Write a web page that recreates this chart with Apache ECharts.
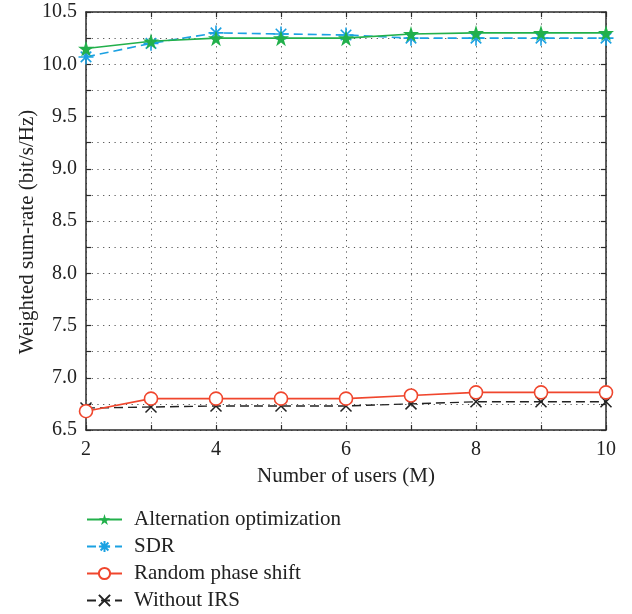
<!DOCTYPE html>
<html>
<head>
<meta charset="utf-8">
<script src="https://cdn.jsdelivr.net/npm/echarts@6/dist/echarts.min.js"></script>
<style>
  html, body { margin: 0; padding: 0; background: #fff; }
  #chart { width: 632px; height: 614px; }
</style>
</head>
<body>
<div id="chart"></div>
<script>
// Number of users M
const users = [2, 3, 4, 5, 6, 7, 8, 9, 10];

// Weighted sum-rate (bit/s/Hz) for each scheme
const altOptimization = [10.15, 10.22, 10.25, 10.25, 10.25, 10.29, 10.30, 10.30, 10.30];
const sdr             = [10.07, 10.20, 10.30, 10.29, 10.28, 10.25, 10.25, 10.25, 10.25];
const randomPhase     = [6.68, 6.80, 6.80, 6.80, 6.80, 6.83, 6.86, 6.86, 6.86];
const withoutIRS      = [6.71, 6.72, 6.73, 6.73, 6.73, 6.75, 6.77, 6.77, 6.77];

const seriesNames = ['Alternation optimization', 'SDR', 'Random phase shift', 'Without IRS'];

const FONT = '"Liberation Serif", "Times New Roman", serif';
const AXIS_COLOR = '#2b2b2b';
const TEXT_COLOR = '#222';

const STAR = 'path://M50,0 L61,35 L98,35 L68,57 L79,91 L50,70 L21,91 L32,57 L2,35 L39,35 Z';
const ASTERISK = 'path://M0,5 L10,5 M5,0 L5,10 M1.5,1.5 L8.5,8.5 M8.5,1.5 L1.5,8.5';
const CROSS = 'path://M0,0 L10,10 M10,0 L0,10';

const pairs = arr => users.map((u, i) => [u, arr[i]]);

const chart = echarts.init(document.getElementById('chart'), null, { renderer: 'canvas' });

// labels only on the major steps (0.5 on y, 2 on x); minor steps keep ticks and grid
const yFmt = v => (Math.abs(v * 2 - Math.round(v * 2)) < 1e-6 ? v.toFixed(1) : '');
const xFmt = v => (v % 2 === 0 ? String(v) : '');

const tick = { show: true, inside: true, length: 5, lineStyle: { color: AXIS_COLOR, width: 1.2 } };
const frame = { show: true, lineStyle: { color: AXIS_COLOR, width: 1.5 } };
const grid = { show: true, lineStyle: { color: '#555', width: 1, type: [1.2, 4.5] } };

chart.setOption({
  animation: false,
  backgroundColor: '#fff',
  textStyle: { fontFamily: FONT },
  grid: { left: 86, right: 26, top: 12, bottom: 184, containLabel: false },
  legend: {
    orient: 'vertical',
    left: 86,
    top: 509,
    padding: 0,
    itemWidth: 35,
    itemHeight: 14,
    itemGap: 6,
    data: seriesNames,
    textStyle: { fontFamily: FONT, fontSize: 21, lineHeight: 21, color: TEXT_COLOR, padding: [0, 0, 0, 7] }
  },
  xAxis: [
    {
      type: 'value', min: 2, max: 10, interval: 1, position: 'bottom',
      name: 'Number of users (M)', nameLocation: 'middle', nameGap: 36, nameMoveOverlap: false,
      nameTextStyle: { fontFamily: FONT, fontSize: 21, color: TEXT_COLOR },
      axisLine: frame, axisTick: tick,
      axisLabel: { formatter: xFmt, fontFamily: FONT, fontSize: 20, color: TEXT_COLOR, margin: 10 },
      splitLine: grid
    },
    {
      type: 'value', min: 2, max: 10, interval: 1, position: 'top',
      axisLine: frame, axisTick: tick,
      axisLabel: { show: false }, splitLine: { show: false }
    }
  ],
  yAxis: [
    {
      type: 'value', min: 6.5, max: 10.5, interval: 0.25, position: 'left',
      name: 'Weighted sum-rate (bit/s/Hz)', nameLocation: 'middle', nameGap: 48, nameRotate: 90,
      nameMoveOverlap: false,
      nameTextStyle: { fontFamily: FONT, fontSize: 21, color: TEXT_COLOR, padding: [0, 22, 0, 0] },
      axisLine: frame, axisTick: tick,
      axisLabel: { formatter: yFmt, fontFamily: FONT, fontSize: 20, color: TEXT_COLOR, margin: 9 },
      splitLine: grid
    },
    {
      type: 'value', min: 6.5, max: 10.5, interval: 0.25, position: 'right',
      axisLine: frame, axisTick: tick,
      axisLabel: { show: false }, splitLine: { show: false }
    }
  ],
  series: [
    {
      name: seriesNames[0], type: 'line', xAxisIndex: 0, yAxisIndex: 0,
      data: pairs(altOptimization),
      symbol: STAR, symbolSize: 16,
      lineStyle: { color: '#22b04b', width: 1.6 },
      itemStyle: { color: '#22b04b', borderColor: '#22b04b', borderWidth: 0 },
      z: 4
    },
    {
      name: seriesNames[1], type: 'line', xAxisIndex: 0, yAxisIndex: 0,
      data: pairs(sdr),
      symbol: ASTERISK, symbolSize: 15,
      lineStyle: { color: '#1ba1e2', width: 1.6, type: [9, 5] },
      itemStyle: { color: '#1ba1e2', borderColor: '#1ba1e2', borderWidth: 1.6 },
      z: 3
    },
    {
      name: seriesNames[2], type: 'line', xAxisIndex: 0, yAxisIndex: 0,
      data: pairs(randomPhase),
      symbol: 'circle', symbolSize: 13,
      lineStyle: { color: '#f0462d', width: 1.6 },
      itemStyle: { color: '#ffffff', borderColor: '#f0462d', borderWidth: 1.6 },
      z: 4
    },
    {
      name: seriesNames[3], type: 'line', xAxisIndex: 0, yAxisIndex: 0,
      data: pairs(withoutIRS),
      symbol: CROSS, symbolSize: 11,
      lineStyle: { color: '#222222', width: 1.4, type: [9, 5] },
      itemStyle: { color: '#222222', borderColor: '#222222', borderWidth: 1.5 },
      z: 3
    }
  ]
});
</script>
</body>
</html>
